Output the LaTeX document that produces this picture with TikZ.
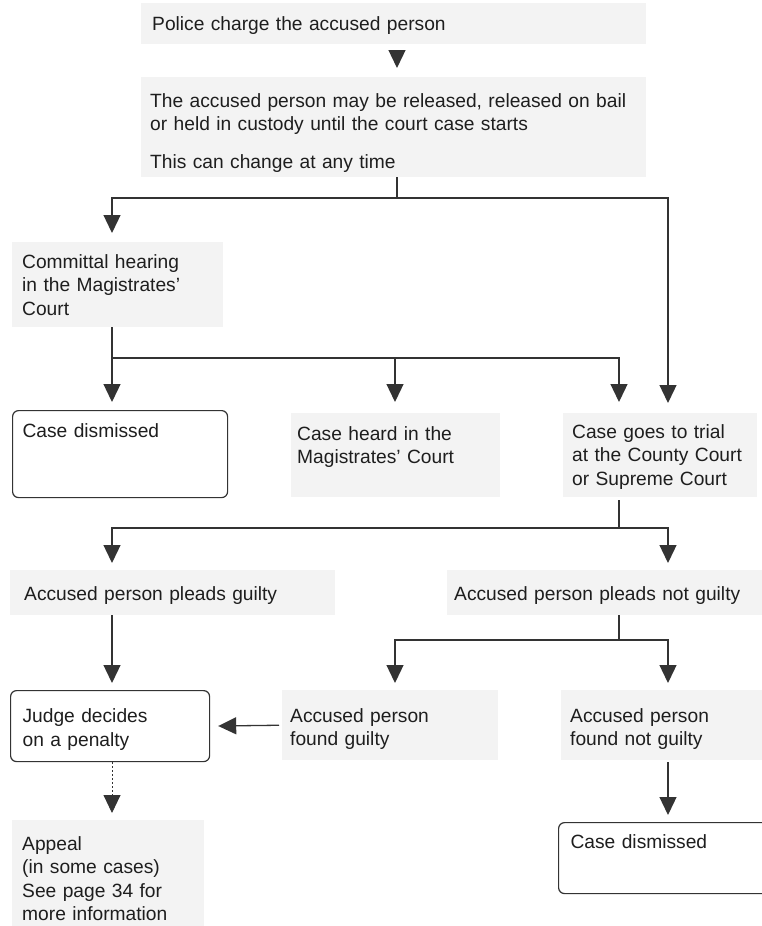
\documentclass[tikz,border=0pt]{standalone}
\usepackage{fontspec}
\setmainfont{Liberation Sans}
\usetikzlibrary{arrows.meta}
\definecolor{ink}{HTML}{1E1E1E}
\definecolor{rule}{HTML}{333333}
\definecolor{shade}{HTML}{F3F3F3}

\tikzset{
	stage/.style={anchor=north west, inner ysep=0pt, text=ink,
		font=\fontsize{19.2}{23.5}\selectfont},
	shaded/.style={stage, fill=shade},
	framed/.style={stage, draw=rule, line width=1.2pt, fill=white, rounded corners=6pt},
	link/.style={draw=rule, line width=1.3pt},
	arr/.style={link, -{Triangle[length=18pt,width=17pt]}, shorten >=8pt}
}

\begin{document}
\begin{tikzpicture}[x=1pt,y=-1pt]

		\useasboundingbox (0,0) rectangle (762,926);

		\node[shaded, inner xsep=11pt, text width=483pt, text height=27pt, text depth=14pt] (police) at (141,3) {Police charge the accused person};
		\node[shaded, inner xsep=9pt, text width=487pt, text height=30pt, text depth=70pt] (custody) at (141,77) {The accused person may be released, released on bail\\or held in custody until the court case starts\\[14.5pt]This can change at any time};

		\node[shaded, inner xsep=10pt, text width=191pt, text height=26pt, text depth=59pt] (committal) at (12,242) {Committal hearing\\in the Magistrates'\\Court};

		\node[framed, inner xsep=10pt, text width=195pt, text height=27pt, text depth=60pt] (dismissA) at (12,410) {Case dismissed};
		\node[shaded, inner xsep=6pt, text width=197pt, text height=27pt, text depth=57pt] (heard) at (291,413) {Case heard in the\\Magistrates' Court};
		\node[shaded, inner xsep=9pt, text width=176pt, text height=25pt, text depth=59pt] (trial) at (563,413) {Case goes to trial\\at the County Court\\or Supreme Court};

		\node[shaded, inner xsep=14pt, text width=297pt, text height=30pt, text depth=15pt] (guilty) at (10,570) {Accused person pleads guilty};
		\node[shaded, inner xsep=7pt, text width=301pt, text height=30pt, text depth=15pt] (notguilty) at (447,570) {Accused person pleads not guilty};

		\node[framed, inner xsep=12pt, text width=175pt, text height=32pt, text depth=39pt] (judge) at (10,690) {Judge decides\\on a penalty};
		\node[shaded, inner xsep=8pt, text width=200pt, text height=32pt, text depth=38pt] (foundg) at (282,690) {Accused person\\found guilty};
		\node[shaded, inner xsep=9pt, text width=183pt, text height=32pt, text depth=38pt] (foundng) at (561,690) {Accused person\\found not guilty};

		\node[shaded, inner xsep=10pt, text width=172pt, text height=30pt, text depth=80pt] (appeal) at (12,820) {Appeal\\(in some cases)\\See page 34 for\\more information};
		\node[framed, inner xsep=12pt, text width=196pt, text height=26pt, text depth=45pt] (dismissB) at (558,822) {Case dismissed};

		\coordinate (cA) at (112,0); \coordinate (cB) at (395,0);
		\coordinate (cC) at (619,0); \coordinate (cD) at (668,0);

		\coordinate (j0) at (397,198);
		\coordinate (j1) at (112,358);
		\coordinate (j2) at (619,528);
		\coordinate (j3) at (619,640);

		\draw[arr, shorten <=6pt, shorten >=9pt] (police.south -| j0) -- (custody.north -| j0);
		\draw[link] (custody.south -| j0) -- (j0);
		\draw[arr, shorten >=9pt] (j0) -| (cA |- committal.north);
		\draw[arr, shorten >=10pt] (j0) -| (cD |- trial.north);

		\draw[link] (committal.south -| j1) -- (j1);
		\draw[arr] (j1) -- (cA |- dismissA.north);
		\draw[arr, shorten >=11pt] (j1) -| (cB |- heard.north);
		\draw[arr, shorten >=11pt] (j1) -| (cC |- trial.north);

		\draw[link, shorten <=3pt] (trial.south -| j2) -- (j2);
		\draw[arr, shorten >=7pt] (j2) -| (cA |- guilty.north);
		\draw[arr, shorten >=7pt] (j2) -| (cD |- notguilty.north);

		\draw[arr, shorten >=7pt] (guilty.south -| cA) -- (judge.north -| cA);
		\draw[link] (notguilty.south -| j3) -- (j3);
		\draw[arr, shorten >=7pt] (j3) -| (cB |- foundg.north);
		\draw[arr, shorten >=7pt] (j3) -| (cD |- foundng.north);

		\draw[arr, shorten <=3pt] (foundg.west) -- (judge.east);
		\draw[arr, shorten <=2pt, shorten >=7pt] (foundng.south -| cD) -- (dismissB.north -| cD);
		\draw[arr, line width=0.9pt, dash pattern=on 2pt off 2pt, shorten >=7pt] (judge.south -| cA) -- (appeal.north -| cA);

\end{tikzpicture}
\end{document}
